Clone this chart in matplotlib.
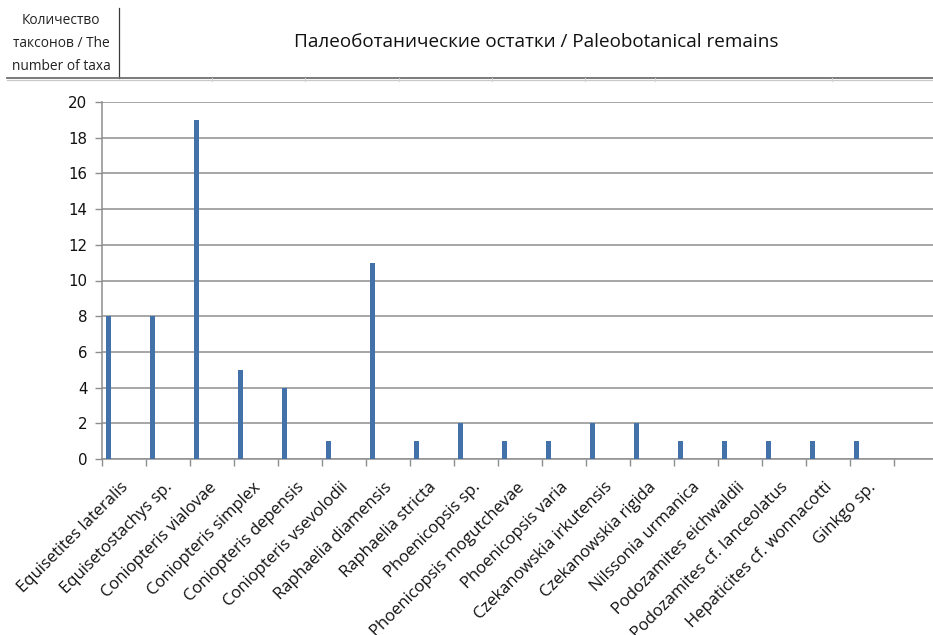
import matplotlib
matplotlib.use("Agg")
import matplotlib.pyplot as plt
from matplotlib.lines import Line2D
from matplotlib.transforms import ScaledTranslation

# Paleobotanical taxa and number of specimens per taxon
taxa = [
    "Equisetites lateralis", "Equisetostachys sp.", "Coniopteris vialovae",
    "Coniopteris simplex", "Coniopteris depensis", "Coniopteris vsevolodii",
    "Raphaelia diamensis", "Raphaelia stricta", "Phoenicopsis sp.",
    "Phoenicopsis mogutchevae", "Phoenicopsis varia", "Czekanowskia irkutensis",
    "Czekanowskia rigida", "Nilssonia urmanica", "Podozamites eichwaldii",
    "Podozamites cf. lanceolatus", "Hepaticites cf. wonnacotti", "Ginkgo sp.",
]
counts = [8, 8, 19, 5, 4, 1, 11, 1, 2, 1, 1, 2, 2, 1, 1, 1, 1, 1]
y_ticks = list(range(0, 21, 2))

title_text = "Палеоботанические остатки / Paleobotanical remains"
ylabel_lines = ["Количество", "таксонов / The", "number of taxa"]

W, H = 933, 635
fig = plt.figure(figsize=(W / 100, H / 100), dpi=100)
fig.patch.set_facecolor("white")

def fx(px):
    return px / W

def fy(py):
    return 1 - py / H

# plot area: x from 102 px, y from 102 px (top) to 459 px (bottom);
# one spare empty category slot continues past the right edge
n = len(taxa)
slot = 44.0
ax = fig.add_axes([fx(102), fy(459), (slot * (n + 1)) / W, (459 - 102) / H])
ax.set_xlim(0, n + 1)
ax.set_ylim(0, 20)

bar_color = "#4371AA"
xs = [i + 0.155 for i in range(n)]
ax.bar(xs, counts, width=0.12, color=bar_color, edgecolor="none", zorder=3)

grid_color = "#8E8E8E"
ax.set_yticks(y_ticks)
ax.yaxis.grid(True, color=grid_color, linewidth=1.1, zorder=1)
ax.set_axisbelow(True)
for s in ("top", "right"):
    ax.spines[s].set_visible(False)
for s in ("left", "bottom"):
    ax.spines[s].set_color(grid_color)
    ax.spines[s].set_linewidth(1.1)

ax.tick_params(axis="y", direction="out", length=5, width=1.0,
               color=grid_color, labelsize=10.8, pad=5.5, labelcolor="#111111")
for t in ax.get_yticklabels():
    t.set_fontfamily("DejaVu Sans")

# category boundaries as tick marks
ax.set_xticks(range(0, n + 2))
ax.set_xticklabels([""] * (n + 2))
ax.tick_params(axis="x", which="major", direction="out", length=5,
               width=1.0, color=grid_color)

# category names, rotated, ending just below the centre of each slot
name_offset = ax.get_xaxis_transform() + ScaledTranslation(2 / 100, -26 / 100,
                                                           fig.dpi_scale_trans)
for i, name in enumerate(taxa):
    ax.text(i + 0.5, 0, name, transform=name_offset, rotation=45,
            rotation_mode="anchor", ha="right", va="center",
            fontsize=12.0, family=["Open Sans", "DejaVu Sans"],
            color="#111111", clip_on=False)

# header block
fig.text(fx(536), fy(42), title_text, ha="center", va="center",
         fontsize=13.6, family=["Open Sans", "DejaVu Sans"], color="#111111")
for i, line in enumerate(ylabel_lines):
    fig.text(fx(61), fy(20 + 23.5 * i), line, ha="center", va="center",
             fontsize=9.9, family=["Open Sans", "DejaVu Sans"], color="#222222")

fig.add_artist(Line2D([fx(119.5), fx(119.5)], [fy(8), fy(78)],
                      color="#3A3A3A", linewidth=0.9))
fig.add_artist(Line2D([fx(7), fx(933)], [fy(77.5), fy(77.5)],
                      color="#707070", linewidth=1.3))
fig.add_artist(Line2D([fx(7), fx(933)], [fy(80.3), fy(80.3)],
                      color="#C8C8C8", linewidth=0.9))
for cx in (212, 305, 399, 492, 585, 655, 832):
    fig.add_artist(Line2D([fx(cx), fx(cx)], [fy(78), fy(80.5)],
                          color="#D0D0D0", linewidth=0.8))

fig.savefig("out.png", dpi=100, facecolor="white")
